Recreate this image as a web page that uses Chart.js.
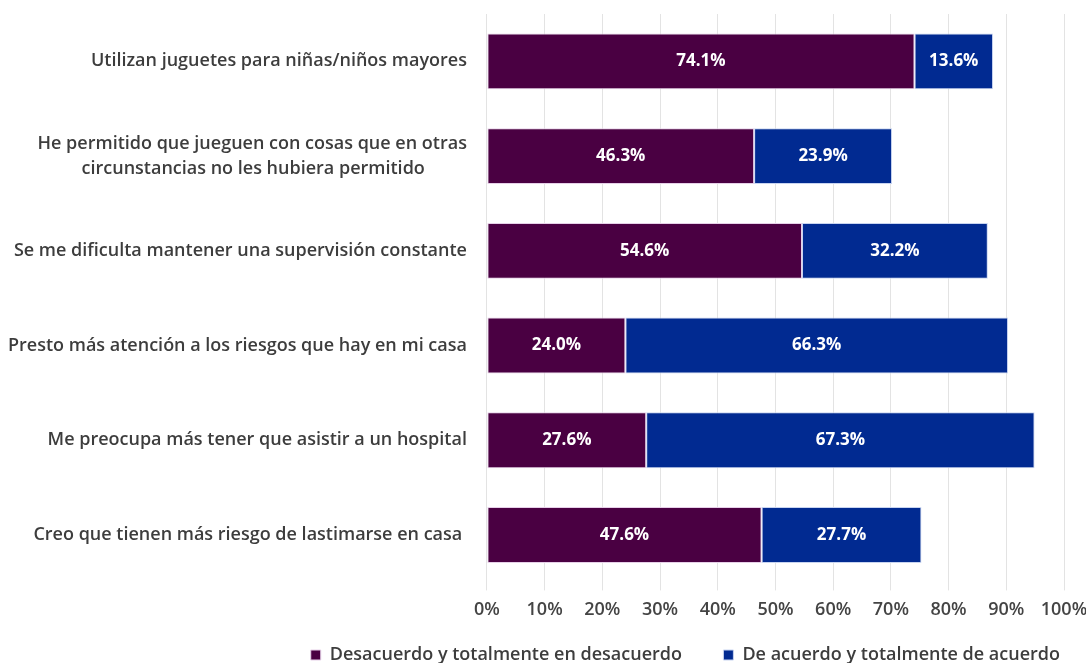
<!DOCTYPE html>
<html>
<head>
<meta charset="utf-8">
<script src="https://cdn.jsdelivr.net/npm/chart.js@4"></script>
<style>
  body { margin: 0; background: #fff; }
  #wrap { width: 1086px; height: 663px; }
</style>
</head>
<body>
<div id="wrap"><canvas id="myBarChart"></canvas></div>
<script>
// categories (second one split in two lines like the original)
var categories = [
    "Utilizan juguetes para niñas/niños mayores",
    ["He permitido que jueguen con cosas que en otras", "circunstancias no les hubiera permitido         "],
    "Se me dificulta mantener una supervisión constante",
    "Presto más atención a los riesgos que hay en mi casa",
    "Me preocupa más tener que asistir a un hospital",
    "Creo que tienen más riesgo de lastimarse en casa "
];
var desacuerdo = [74.1, 46.3, 54.6, 24.0, 27.6, 47.6];
var deAcuerdo = [13.6, 23.9, 32.2, 66.3, 67.3, 27.7];
var xTicks = [0, 10, 20, 30, 40, 50, 60, 70, 80, 90, 100];

// writes the value in the middle of every bar segment
var barValues = {
    id: 'barValues',
    afterDatasetsDraw: function(chart) {
        var ctx = chart.ctx;
        ctx.save();
        ctx.fillStyle = '#ffffff';
        ctx.font = 'bold 17px "Open Sans"';
        ctx.textAlign = 'center';
        ctx.textBaseline = 'middle';
        chart.data.datasets.forEach(function(ds, i) {
            chart.getDatasetMeta(i).data.forEach(function(bar, j) {
                var p = bar.getProps(['x', 'y', 'base'], true);
                ctx.fillText(ds.data[j].toFixed(1) + '%', (p.x + p.base) / 2, p.y);
            });
        });
        ctx.restore();
    }
};

var txtFont = { family: '"Open Sans"', size: 18, weight: '600' };

var ctx = document.getElementById('myBarChart').getContext('2d');
var chart = new Chart(ctx, {
    type: 'bar',
    data: {
        labels: categories,
        datasets: [
            {
                label: 'Desacuerdo y totalmente en desacuerdo',
                backgroundColor: '#4a0042',
                borderColor: '#e6d0e8',
                borderWidth: 1,
                borderSkipped: false,
                data: desacuerdo,
            },
            {
                label: 'De acuerdo y totalmente de acuerdo',
                backgroundColor: '#012a91',
                borderColor: '#c8d4f0',
                borderWidth: 1,
                borderSkipped: false,
                data: deAcuerdo,
            },
        ]
    },
    plugins: [barValues],
    options: {
        indexAxis: 'y',
        responsive: true,
        maintainAspectRatio: false,
        animation: false,
        layout: { padding: { top: 0, right: 22, left: 0, bottom: -11 } },
        datasets: {
            bar: { barPercentage: 0.59, categoryPercentage: 1.0 }
        },
        scales: {
            x: {
                stacked: true,
                min: 0,
                max: 100,
                afterBuildTicks: function(axis) {
                    axis.ticks = xTicks.map(function(v) { return { value: v }; });
                },
                afterFit: function(axis) {
                    axis.paddingRight = 6;
                    axis.height += 12;
                },
                grid: { color: '#e3e3e3', lineWidth: 1, tickLength: 8 },
                border: { display: false },
                ticks: {
                    color: '#444',
                    font: txtFont,
                    padding: 9,
                    callback: function(v) { return v + '%'; }
                }
            },
            y: {
                stacked: true,
                afterFit: function(axis) {
                    axis.paddingTop = 14;
                    axis.paddingBottom = 0;
                    axis.width -= 12;
                },
                grid: { display: false, drawTicks: false },
                border: { display: false },
                ticks: {
                    color: '#3d3d3d',
                    font: { family: '"Open Sans"', size: 18, weight: '600', lineHeight: 1.4 },
                    padding: 20
                }
            }
        },
        plugins: {
            legend: {
                position: 'bottom',
                align: 'end',
                labels: {
                    color: '#3d3d3d',
                    font: txtFont,
                    boxWidth: 10,
                    boxHeight: 10,
                    padding: 4,
                    generateLabels: function(chart) {
                        var items = Chart.defaults.plugins.legend.labels.generateLabels(chart);
                        // keep the wide gap between the two entries
                        items[0].text = items[0].text + '        ';
                        return items;
                    }
                }
            },
            tooltip: { enabled: false }
        }
    }
});
</script>
</body>
</html>
